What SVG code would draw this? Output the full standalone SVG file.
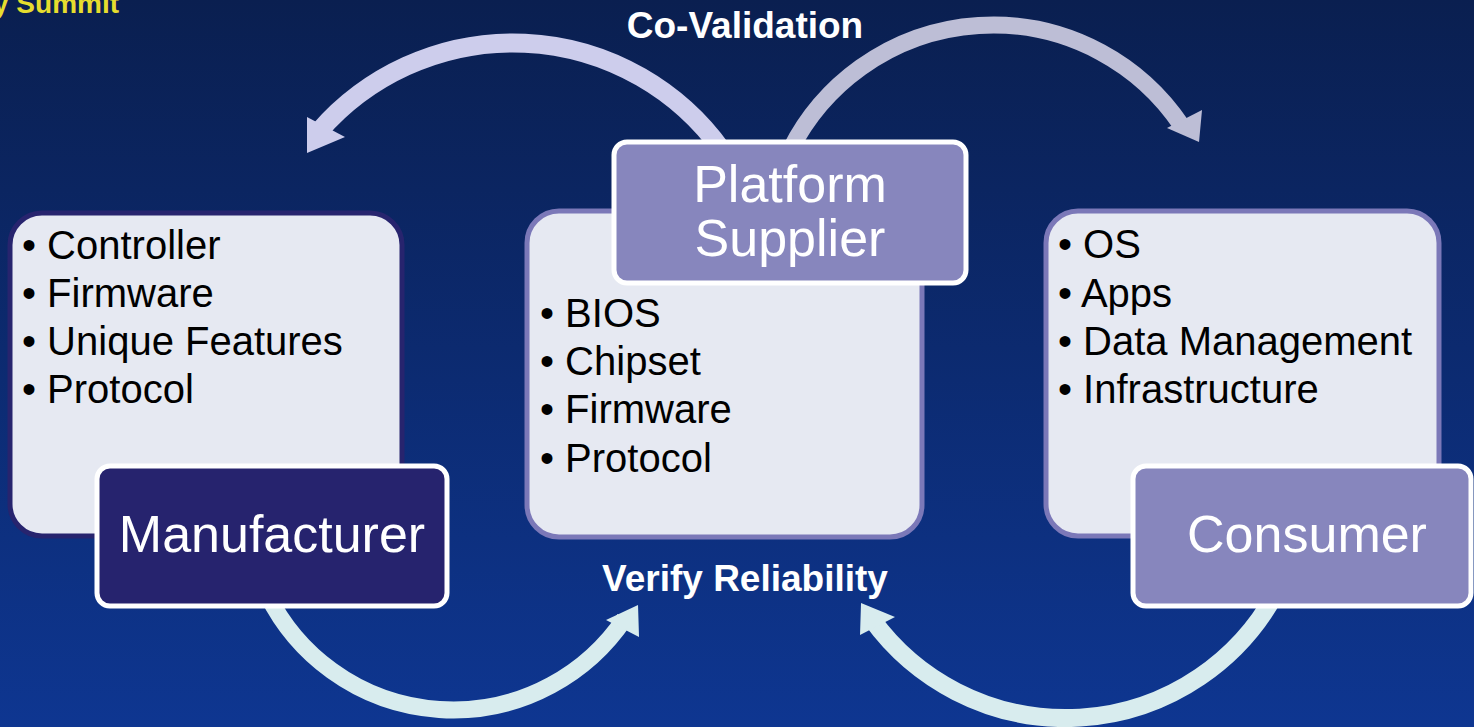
<svg xmlns="http://www.w3.org/2000/svg" width="1474" height="727" viewBox="0 0 1474 727">
<defs>
<linearGradient id="bg" x1="0" y1="0" x2="0" y2="1">
<stop offset="0" stop-color="#0A1F50"/>
<stop offset="1" stop-color="#0E3691"/>
</linearGradient>
<style>
.panel{fill:#E6E9F2;stroke-width:5}
.pl{stroke:#27246E}
.pp{stroke:#7B78B8}
.tag{stroke:#FFFFFF;stroke-width:5}
.list{font-family:"Liberation Sans",Arial,sans-serif;font-size:40px;fill:#000000}
.tagt{font-family:"Liberation Sans",Arial,sans-serif;font-size:52px;fill:#FFFFFF;text-anchor:middle}
.lbl{font-family:"Liberation Sans",Arial,sans-serif;font-size:37px;font-weight:bold;fill:#FFFFFF;text-anchor:middle}
.arc{fill:none}
</style>
</defs>
<rect x="0" y="0" width="1474" height="727" fill="url(#bg)"/>
<text x="-7" y="13" font-family="'Liberation Sans',Arial,sans-serif" font-size="28" font-weight="bold" fill="#E6DD2E">y Summit</text>

<g id="connectors">
<path class="arc" d="M721.7,150 A257,257 0 0 0 319,131.4" stroke="#CDCDEC" stroke-width="19"/>
<polygon points="307,117 307,153 345,137" fill="#CDCDEC"/>
<path class="arc" d="M790.2,150 A227,227 0 0 1 1181.2,125.1" stroke="#BDBED6" stroke-width="17"/>
<polygon points="1202,110 1199,142 1167,128" fill="#BDBED6"/>
<path class="arc" d="M267.6,595 A207,207 0 0 0 624.6,618.7" stroke="#D8ECEE" stroke-width="17"/>
<polygon points="606,620 638,605 639,637" fill="#D8ECEE"/>
<path class="arc" d="M1274.7,595 A239.2,239.2 0 0 1 872.1,619.5" stroke="#D8ECEE" stroke-width="18"/>
<polygon points="895,617 861,603 860,635" fill="#D8ECEE"/>
</g>

<text class="lbl" x="745" y="38">Co-Validation</text>
<text class="lbl" x="745" y="591">Verify Reliability</text>

<g id="manufacturer">
<rect class="panel pl" x="10" y="213" width="392" height="323" rx="32"/>
<text class="list" x="22" y="259">• Controller</text>
<text class="list" x="22" y="307">• Firmware</text>
<text class="list" x="22" y="355">• Unique Features</text>
<text class="list" x="22" y="403">• Protocol</text>
<rect class="tag" x="97" y="466" width="350" height="140" rx="13" fill="#26236E"/>
<text class="tagt" x="272" y="552">Manufacturer</text>
</g>

<g id="platform-supplier">
<rect class="panel pp" x="527" y="211" width="395" height="326" rx="32"/>
<text class="list" x="540" y="327">• BIOS</text>
<text class="list" x="540" y="375">• Chipset</text>
<text class="list" x="540" y="423">• Firmware</text>
<text class="list" x="540" y="472">• Protocol</text>
<rect class="tag" x="614" y="142" width="352" height="141" rx="13" fill="#8786BD"/>
<text class="tagt" x="790" y="202">Platform</text>
<text class="tagt" x="790" y="256">Supplier</text>
</g>

<g id="consumer">
<rect class="panel pp" x="1046" y="211" width="393" height="325" rx="32"/>
<text class="list" x="1058" y="258">• OS</text>
<text class="list" x="1058" y="307">• Apps</text>
<text class="list" x="1058" y="355">• Data Management</text>
<text class="list" x="1058" y="403">• Infrastructure</text>
<rect class="tag" x="1133" y="466" width="338" height="140" rx="13" fill="#8786BD"/>
<text class="tagt" x="1307" y="552">Consumer</text>
</g>
</svg>
